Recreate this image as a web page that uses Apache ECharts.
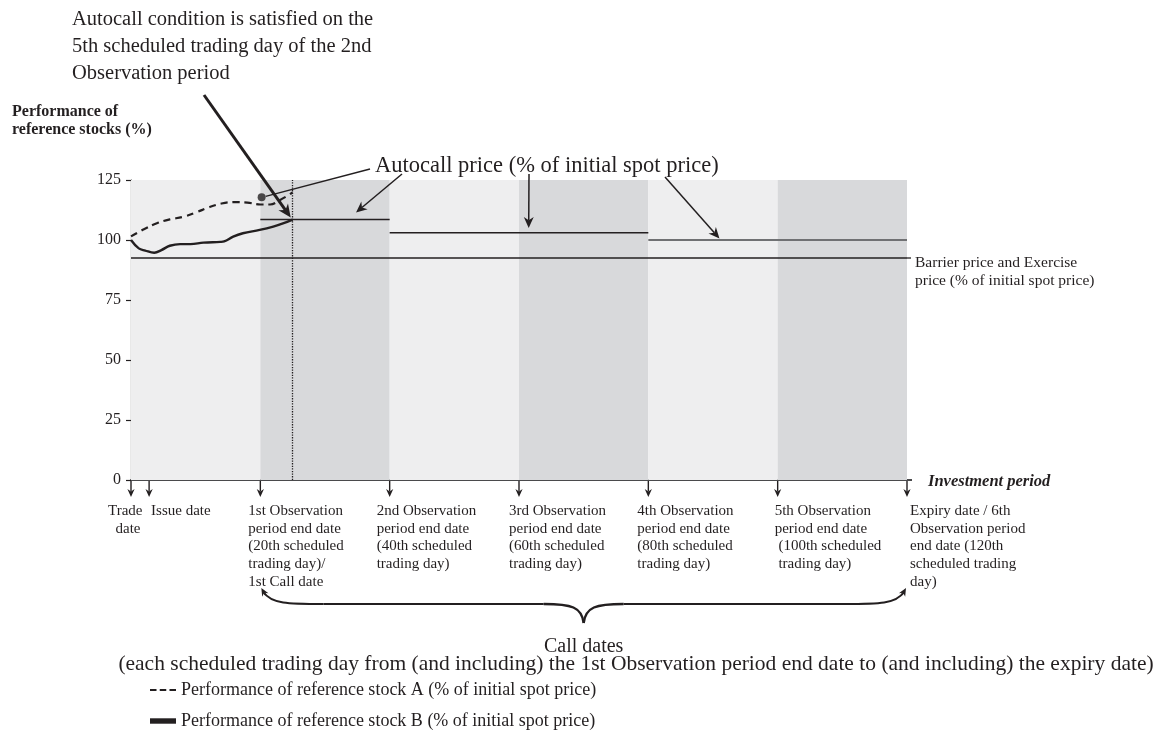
<!DOCTYPE html>
<html>
<head>
<meta charset="utf-8">
<script src="https://cdn.jsdelivr.net/npm/echarts@6/dist/echarts.min.js"></script>
<style>
html, body { margin: 0; padding: 0; background: #fff; }
#chart { width: 1158px; height: 747px; }
</style>
</head>
<body>
<div id="chart"></div>
<script>
// x = scheduled trading days since trade date, y = % of initial spot price
const periodEnds = [0, 20, 40, 60, 80, 100, 120];
const yTicks = [0, 25, 50, 75, 100, 125];

const stockADays = [0, 2, 4, 6, 8, 10, 12, 14, 16, 18, 20, 21.5, 23, 25];
const stockAValues = [101.5, 104.5, 107, 108.6, 109.6, 111.4, 113.6, 115.2, 115.8, 115.6, 114.8, 114.8, 116.6, 119.8];
const stockBDays = [0, 1.2, 2.2, 3.6, 4.7, 6, 7.6, 9.2, 11.2, 13.8, 14.4, 15.8, 17.3, 19.9, 22, 23.5, 25];
const stockBValues = [100, 96.5, 95.6, 94.7, 95.8, 97.6, 98.3, 98.3, 98.9, 99.2, 99.4, 101.4, 102.8, 104.2, 105.6, 106.9, 108.5];

const autocallStart = [20, 40, 80];
const autocallEnd = [40, 80, 120];
const autocallLevels = [108.5, 103, 100];
const barrierLevel = 92.5;
const autocallDay = 25;
const knockPoint = [20.2, 117.8];

const dateTicks = [0, 2.8, 20, 40, 60, 80, 100, 120];
const dateLabels = [
    'Trade\n  date',
    'Issue date',
    '1st Observation\nperiod end date\n(20th scheduled\ntrading day)/\n1st Call date',
    '2nd Observation\nperiod end date\n(40th scheduled\ntrading day)',
    '3rd Observation\nperiod end date\n(60th scheduled\ntrading day)',
    '4th Observation\nperiod end date\n(80th scheduled\ntrading day)',
    '5th Observation\nperiod end date\n (100th scheduled\n trading day)',
    'Expiry date / 6th\nObservation period\nend date (120th\nscheduled trading\nday)'
];
const dateLabelShift = [-23, 2, -12, -13, -10, -11, -3, 3];

const nameA = 'Performance of reference stock A (% of initial spot price)';
const nameB = 'Performance of reference stock B (% of initial spot price)';

const INK = '#231f20';
const SERIF = '"Liberation Serif", "Times New Roman", serif';
const LIGHT = '#eeeeef';
const DARK = '#d8d9db';

const chart = echarts.init(document.getElementById('chart'));

let bands = [];
for (let i = 0; i < periodEnds.length - 1; i++) {
    bands.push([
        { xAxis: periodEnds[i], itemStyle: { color: i % 2 ? DARK : LIGHT } },
        { xAxis: periodEnds[i + 1] }
    ]);
}

let autocallSeries = autocallLevels.map((lv, i) => ({
    type: 'line',
    z: 3,
    silent: true,
    symbol: 'none',
    data: [[autocallStart[i], lv], [autocallEnd[i], lv]],
    lineStyle: { color: i === 2 ? '#707173' : INK, width: i === 2 ? 2 : 1.5 }
}));

let option = {
    animation: false,
    grid: { left: 131, right: 251, top: 180, bottom: 267 },
    xAxis: {
        type: 'value', min: 0, max: 120,
        axisLine: { lineStyle: { color: '#4a4a4c', width: 2 } },
        axisTick: { show: false },
        axisLabel: { show: false },
        splitLine: { show: false }
    },
    yAxis: {
        type: 'value', min: 0, max: 125, interval: 25,
        axisLine: { show: true, lineStyle: { color: INK, width: 1.2 } },
        axisTick: { show: true, length: 5, lineStyle: { color: INK, width: 1.2 } },
        axisLabel: { color: INK, fontFamily: SERIF, fontSize: 16, margin: 10 },
        splitLine: { show: false }
    },
    legend: {
        orient: 'vertical',
        left: 145, top: 676,
        itemWidth: 26, itemHeight: 14, itemGap: 13,
        symbolKeepAspect: true,
        textStyle: { color: INK, fontFamily: SERIF, fontSize: 18 },
        data: [
            { name: nameA, icon: 'path://M0,0h6v2h-6z M9,0h6v2h-6z M18,0h6v2h-6z' },
            { name: nameB, icon: 'path://M0,0h24v5h-24z' }
        ]
    },
    series: [
        {
            type: 'line', z: 1, silent: true, symbol: 'none', data: [],
            markArea: { silent: true, data: bands }
        },
        {
            type: 'line', z: 3, silent: true, symbol: 'none',
            data: [[0, barrierLevel], [120, barrierLevel]],
            lineStyle: { color: INK, width: 1.3 },
            markLine: {
                silent: true, symbol: ['none', 'none'], label: { show: false },
                lineStyle: { type: 'dotted', color: INK, width: 1.3 },
                data: [{ xAxis: autocallDay }]
            }
        },
        ...autocallSeries,
        {
            name: nameA, type: 'line', z: 4, symbol: 'none', smooth: 0.4,
            data: stockADays.map((d, i) => [d, stockAValues[i]]),
            lineStyle: { color: INK, width: 2.2, type: [7, 5] },
            itemStyle: { color: INK }
        },
        {
            name: nameB, type: 'line', z: 4, symbol: 'none', smooth: 0.4,
            data: stockBDays.map((d, i) => [d, stockBValues[i]]),
            lineStyle: { color: INK, width: 2.4 },
            itemStyle: { color: INK }
        },
        {
            type: 'scatter', z: 5, silent: true, symbolSize: 8,
            data: [knockPoint], itemStyle: { color: INK }
        }
    ]
};
chart.setOption(option);

function px(d, v) {
    return chart.convertToPixel({ gridIndex: 0 }, [d, v]);
}

function seg(x1, y1, x2, y2, w, color) {
    return { type: 'line', silent: true, z: 100, shape: { x1: x1, y1: y1, x2: x2, y2: y2 }, style: { stroke: color || INK, lineWidth: w } };
}

function arrow(x1, y1, x2, y2, w, head) {
    const a = Math.atan2(y2 - y1, x2 - x1);
    const c = Math.cos(a), s = Math.sin(a);
    const bx = x2 - head * c, by = y2 - head * s;
    const nx = x2 - head * 0.7 * c, ny = y2 - head * 0.7 * s;
    const hw = head * 0.45;
    return [
        seg(x1, y1, nx, ny, w),
        { type: 'polygon', silent: true, z: 100, shape: { points: [[x2, y2], [bx - s * hw, by + c * hw], [nx, ny], [bx + s * hw, by - c * hw]] }, style: { fill: INK } }
    ];
}

function curve(x1, y1, c1x, c1y, c2x, c2y, x2, y2, w) {
    return {
        type: 'bezierCurve', silent: true, z: 100,
        shape: { x1: x1, y1: y1, cpx1: c1x, cpy1: c1y, cpx2: c2x, cpy2: c2y, x2: x2, y2: y2 },
        style: { stroke: INK, lineWidth: w, fill: null }
    };
}

function text(x, y, str, size, opts) {
    return {
        type: 'text', silent: true, z: 100, x: x, y: y,
        style: Object.assign({
            text: str, fill: INK, fontFamily: SERIF, fontSize: size,
            lineHeight: Math.round(size * 1.25), verticalAlign: 'top'
        }, opts || {})
    };
}

let g = [];

// headline annotation and bold pointer
g.push(text(72, 6, 'Autocall condition is satisfied on the\n5th scheduled trading day of the 2nd\nObservation period', 20.5, { lineHeight: 27 }));
let hit = px(24.7, 109.4);
g.push(...arrow(204, 95, hit[0], hit[1], 3, 13));

// y-axis title
g.push(text(12, 103, 'Performance of\nreference stocks (%)', 16, { fontWeight: 'bold', lineHeight: 18 }));

// autocall price label with its pointers
g.push(text(375, 152, 'Autocall price (% of initial spot price)', 22.5));
let dot = px(knockPoint[0], knockPoint[1]);
g.push(seg(370, 169, dot[0] + 4, dot[1] - 1, 1.3));
let a1 = px(34.8, autocallLevels[0] + 3);
g.push(...arrow(402, 174, a1[0], a1[1], 1.5, 11));
let a2 = px(61.5, autocallLevels[1] + 2);
g.push(...arrow(529, 174, a2[0], a2[1], 1.5, 11));
let a3 = px(91, autocallLevels[2] + 0.6);
g.push(...arrow(665, 177, a3[0], a3[1], 1.5, 11));

// barrier label
let bar = px(120, barrierLevel);
g.push(seg(bar[0], bar[1], bar[0] + 4, bar[1], 1.3));
g.push(text(bar[0] + 8, bar[1] - 4, 'Barrier price and Exercise\nprice (% of initial spot price)', 15.5, { lineHeight: 18 }));

// x-axis name, axis runs a little past the last period
let xEnd = px(120, 0);
g.push(seg(xEnd[0], xEnd[1], xEnd[0] + 5, xEnd[1], 2, '#4a4a4c'));
g.push(text(xEnd[0] + 21, xEnd[1] - 9, 'Investment period', 16.5, { fontWeight: 'bold', fontStyle: 'italic' }));

// date arrows and labels
dateTicks.forEach((d, i) => {
    let p = px(d, 0);
    g.push(...arrow(p[0], p[1] + 1, p[0], p[1] + 17, 1.4, 8));
    g.push(text(p[0] + dateLabelShift[i], p[1] + 22, dateLabels[i], 15, { lineHeight: 17.8 }));
});

// call dates brace
let L = px(periodEnds[1], 0)[0] + 3, R = px(periodEnds[6], 0)[0] - 3, C = (L + R) / 2;
let yT = 592, yM = 604, yP = 623;
g.push(curve(L, yT, L + 8, yM, L + 25, yM, L + 60, yM, 2));
g.push(seg(L + 60, yM, C - 40, yM, 2.2));
g.push(curve(C - 40, yM, C - 12, yM, C - 2, yM + 3, C, yP, 2.4));
g.push(curve(C, yP, C + 2, yM + 3, C + 12, yM, C + 40, yM, 2.4));
g.push(seg(C + 40, yM, R - 60, yM, 2.2));
g.push(curve(R - 60, yM, R - 25, yM, R - 8, yM, R, yT, 2));
g.push(...arrow(L + 2, yT + 3, L - 2, yT - 4, 1.5, 8));
g.push(...arrow(R - 2, yT + 3, R + 2, yT - 4, 1.5, 8));
g.push(text(C, 634, 'Call dates', 20, { align: 'center' }));
g.push(text(636, 651, '(each scheduled trading day from (and including) the 1st Observation period end date to (and including) the expiry date)', 21.5, { align: 'center' }));

chart.setOption({ graphic: { elements: g } });
</script>
</body>
</html>
